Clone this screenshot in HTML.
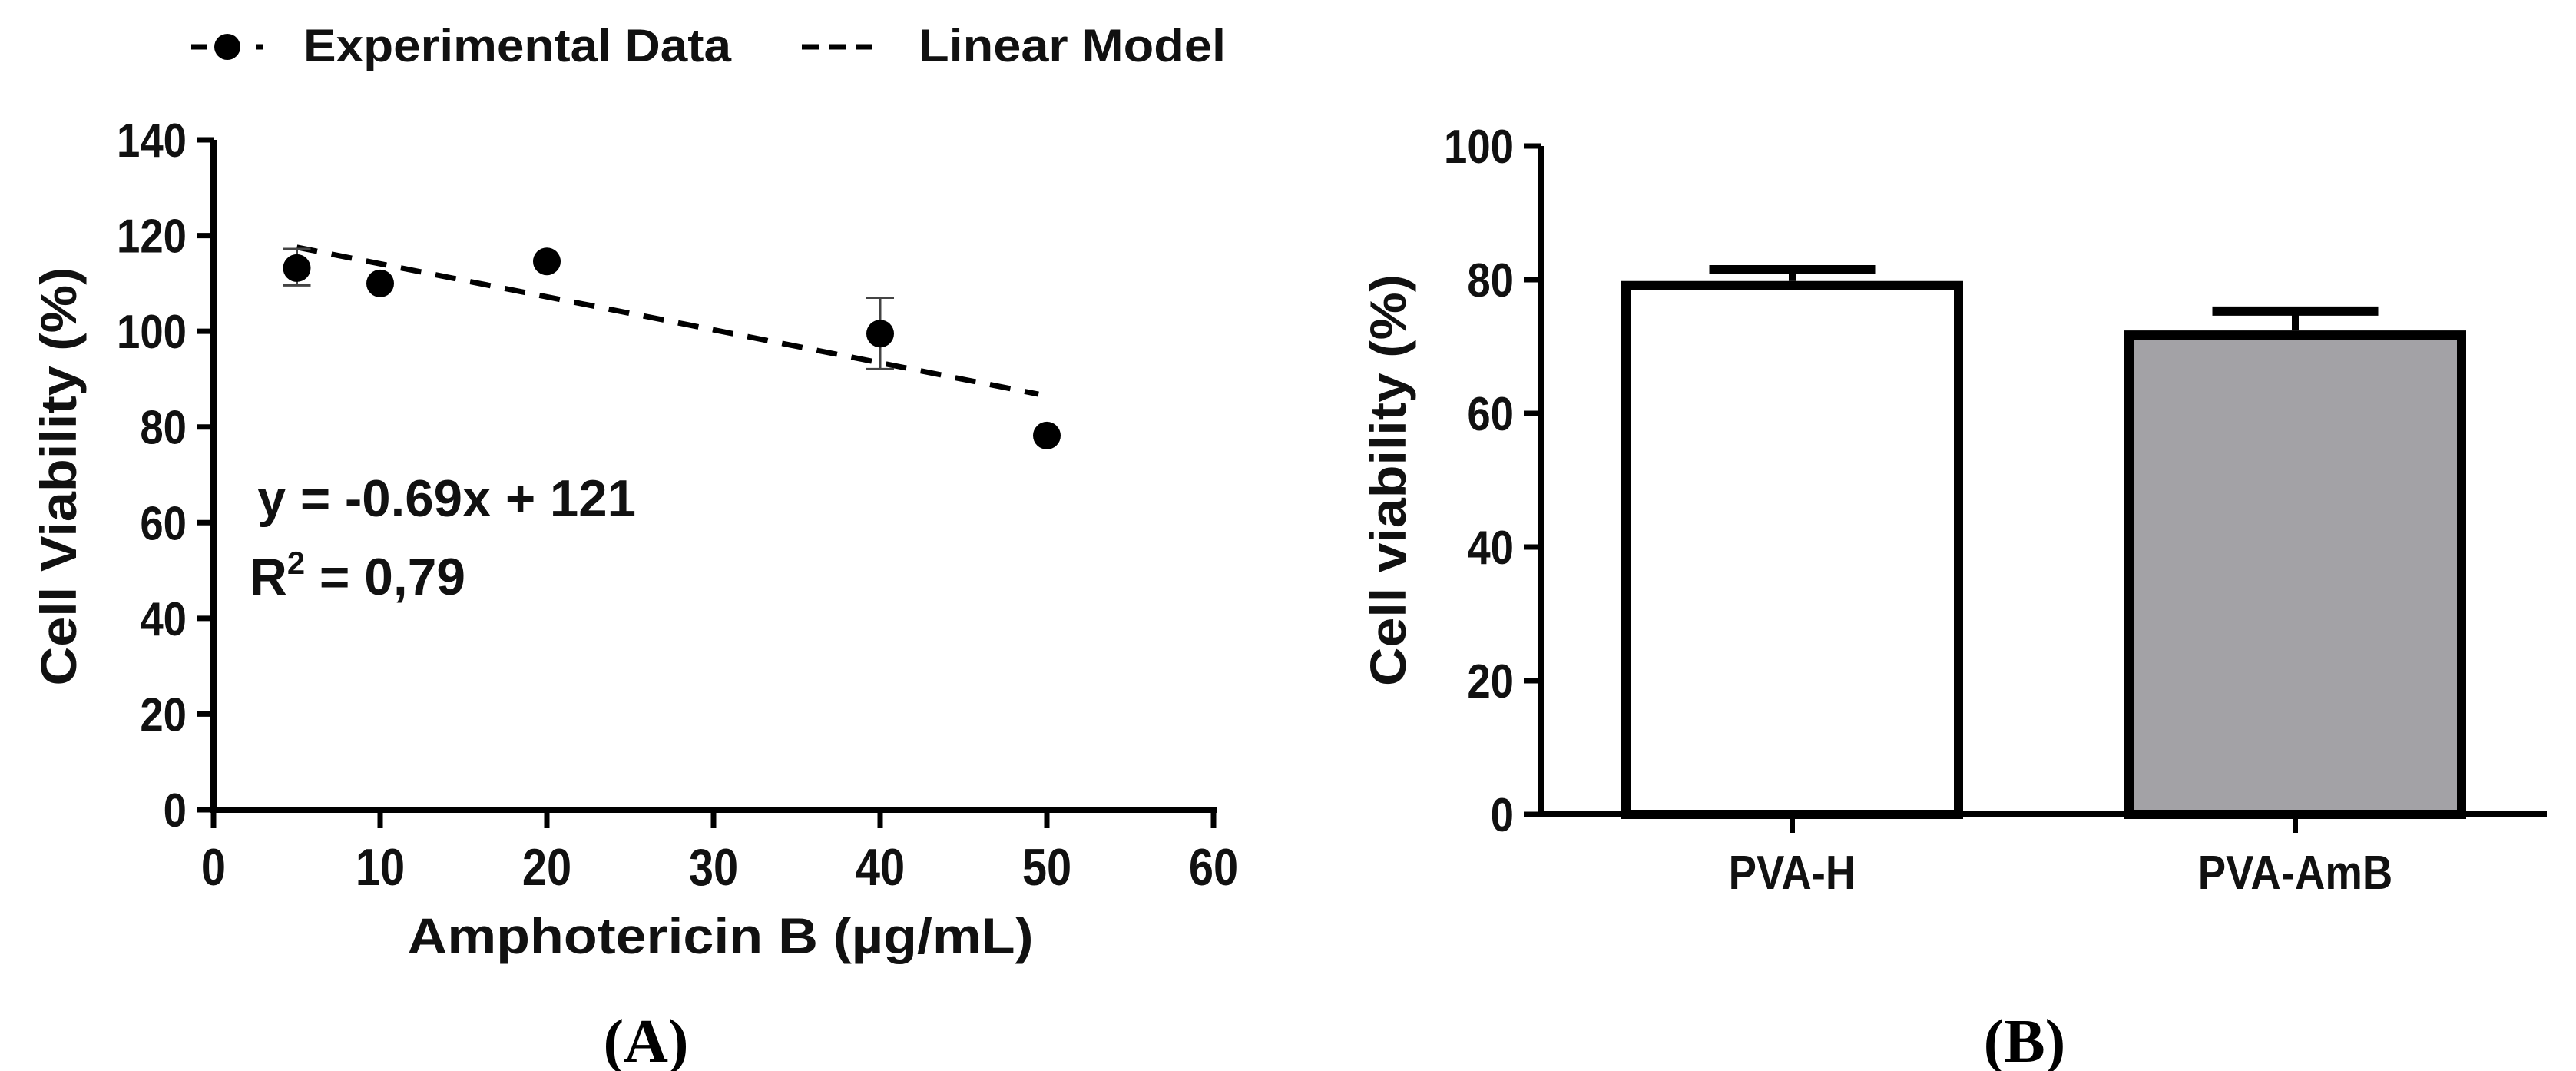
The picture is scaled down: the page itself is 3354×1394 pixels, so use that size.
<!DOCTYPE html>
<html><head><meta charset="utf-8"><style>
html,body{margin:0;padding:0;background:#fff;}
svg{display:block;font-family:"Liberation Sans",Arial,sans-serif;font-weight:bold;}
</style></head><body>
<svg id="fig" width="3354" height="1394" viewBox="0 0 3354 1394" xmlns="http://www.w3.org/2000/svg">
<g id="legend">
  <g>
    <line x1="249" y1="61" x2="270" y2="61" stroke="#000" stroke-width="7"/>
    <circle cx="296" cy="61" r="17" fill="#000"/>
    <line x1="333" y1="61" x2="342" y2="61" stroke="#000" stroke-width="7"/>
    <text x="395" y="80" font-size="60" textLength="557" lengthAdjust="spacingAndGlyphs" fill="#111">Experimental Data</text>
  </g>
  <g>
    <line x1="1044" y1="61" x2="1136" y2="61" stroke="#000" stroke-width="7" stroke-dasharray="22 13"/>
    <text x="1196" y="80" font-size="60" textLength="400" lengthAdjust="spacingAndGlyphs" fill="#111">Linear Model</text>
  </g>
</g>
<g id="chartA"></g>
<g id="chartB"></g>
<text x="841" y="1382" font-size="80" text-anchor="middle" font-family="Liberation Serif, serif">(<tspan font-weight="bold">A</tspan>)</text>
<text x="2636" y="1382" font-size="80" text-anchor="middle" font-family="Liberation Serif, serif">(<tspan font-weight="bold">B</tspan>)</text>
</svg>
<script>
const NS='http://www.w3.org/2000/svg';
// Chart A data
const concX=[5,10,20,40,50];
const viability=[113.2,110,114.6,99.5,78.2];
const errUp=[4,0,0,7.5,0];
const errDown=[3.6,0,0,7.4,0];
const xTicksA=[0,10,20,30,40,50,60];
const yTicksA=[0,20,40,60,80,100,120,140];
const fitSlope=-0.69;
const fitIntercept=121;
const fitRange=[5,49.5];
// Chart B data
const groups=['PVA-H','PVA-AmB'];
const barValues=[79.8,72.4];
const barErr=[1.7,2.9];
const yTicksB=[0,20,40,60,80,100];

function el(tag,attrs,parent,text){const e=document.createElementNS(NS,tag);for(const k in attrs)e.setAttribute(k,attrs[k]);if(text!==undefined)e.textContent=text;parent.appendChild(e);return e;}

// ---- Chart A
const A=document.getElementById('chartA');
const ax=v=>278+(v-0)/60*(1580-278);
const ay=v=>1054-(v/140)*(1054-182);
let l=el('line',{x1:ax(0),y1:ay(0),x2:ax(0),y2:ay(140),stroke:'#000','stroke-width':8},A);


l=el('line',{x1:ax(0)-4,y1:ay(0),x2:ax(60)+4,y2:ay(0),stroke:'#000','stroke-width':8},A);


yTicksA.forEach(v=>{
  el('line',{x1:ax(0)-22,y1:ay(v),x2:ax(0),y2:ay(v),stroke:'#000','stroke-width':7},A);
  const t=el('text',{x:243,y:ay(v)+22,'font-size':62,'text-anchor':'end',fill:'#111',transform:'translate(243,0) scale(0.88,1) translate(-243,0)'},A,String(v));
  
  
});
xTicksA.forEach(v=>{
  el('line',{x1:ax(v),y1:ay(0),x2:ax(v),y2:ay(0)+24,stroke:'#000','stroke-width':7},A);
  const t=el('text',{x:ax(v),y:1152,'font-size':68,'text-anchor':'middle',fill:'#111',transform:'translate('+ax(v)+',0) scale(0.85,1) translate('+(-ax(v))+',0)'},A,String(v));
  
  
});
l=el('line',{x1:ax(fitRange[0]),y1:ay(fitSlope*fitRange[0]+fitIntercept),x2:ax(fitRange[1]),y2:ay(fitSlope*fitRange[1]+fitIntercept),stroke:'#000','stroke-width':7,'stroke-dasharray':'27 19'},A);


concX.forEach((x,i)=>{
  if(errUp[i]>0||errDown[i]>0){
    const g=el('g',{stroke:'#444','stroke-width':3},A);
    
    
    el('line',{x1:ax(x),y1:ay(viability[i]+errUp[i]),x2:ax(x),y2:ay(viability[i]-errDown[i])},g);
    el('line',{x1:ax(x)-18,y1:ay(viability[i]+errUp[i]),x2:ax(x)+18,y2:ay(viability[i]+errUp[i])},g);
    el('line',{x1:ax(x)-18,y1:ay(viability[i]-errDown[i]),x2:ax(x)+18,y2:ay(viability[i]-errDown[i])},g);
  }
  const c=el('circle',{cx:ax(x),cy:ay(viability[i]),r:18,fill:'#000'},A);
  
  
});
let t=el('text',{x:335,y:672,'font-size':68,fill:'#111',textLength:493,lengthAdjust:'spacingAndGlyphs','xml:space':'preserve'},A,'y  =  -0.69x + 121');


t=el('text',{x:325,y:774,'font-size':68,fill:'#111',textLength:281,lengthAdjust:'spacingAndGlyphs'},A);


t.innerHTML='R<tspan dy="-27" font-size="42">2</tspan><tspan dy="27"> =  0,79</tspan>';
t=el('text',{x:938,y:1241,'font-size':66,'text-anchor':'middle',fill:'#111',textLength:815,lengthAdjust:'spacingAndGlyphs'},A,'Amphotericin B (µg/mL)');


t=el('text',{x:0,y:0,'font-size':66,'text-anchor':'middle',fill:'#111',textLength:545,lengthAdjust:'spacingAndGlyphs',transform:'translate(99,620) rotate(-90)'},A,'Cell Viability (%)');



// ---- Chart B
const B=document.getElementById('chartB');
const by=v=>1060-(v/100)*(1060-190);
const bandStart=2006, bandW=(3316-2006)/2;
const bx=i=>bandStart+bandW*(i+0.5);
const barW=445;
l=el('line',{x1:2006,y1:by(0),x2:2006,y2:by(100),stroke:'#000','stroke-width':8},B);


l=el('line',{x1:2002,y1:by(0),x2:3316,y2:by(0),stroke:'#000','stroke-width':8},B);


yTicksB.forEach(v=>{
  el('line',{x1:1984,y1:by(v),x2:2006,y2:by(v),stroke:'#000','stroke-width':7},B);
  const t=el('text',{x:1971,y:by(v)+22,'font-size':62,'text-anchor':'end',fill:'#111',transform:'translate(1971,0) scale(0.88,1) translate(-1971,0)'},B,String(v));
  
  
});
const fills=['#ffffff','#a3a2a6'];
groups.forEach((g,i)=>{
  const cx=bx(i);
  const ey=by(barValues[i]+barErr[i]);
  el('line',{x1:cx,y1:by(barValues[i]),x2:cx,y2:ey,stroke:'#000','stroke-width':9},B);
  const cap=el('line',{x1:cx-108,y1:ey,x2:cx+108,y2:ey,stroke:'#000','stroke-width':12},B);
  
  
  const r=el('rect',{x:cx-barW/2+6,y:by(barValues[i])+6,width:barW-12,height:by(0)-by(barValues[i])-6,fill:fills[i],stroke:'#000','stroke-width':12},B);
  
  
  el('line',{x1:cx,y1:by(0),x2:cx,y2:by(0)+24,stroke:'#000','stroke-width':7},B);
  const t=el('text',{x:cx,y:1157,'font-size':62,'text-anchor':'middle',fill:'#111',transform:'translate('+cx+',0) scale(0.88,1) translate('+(-cx)+',0)'},B,g);
  
  
});
t=el('text',{x:0,y:0,'font-size':66,'text-anchor':'middle',fill:'#111',textLength:536,lengthAdjust:'spacingAndGlyphs',transform:'translate(1830,625) rotate(-90)'},B,'Cell viability (%)');


</script>
</body></html>
